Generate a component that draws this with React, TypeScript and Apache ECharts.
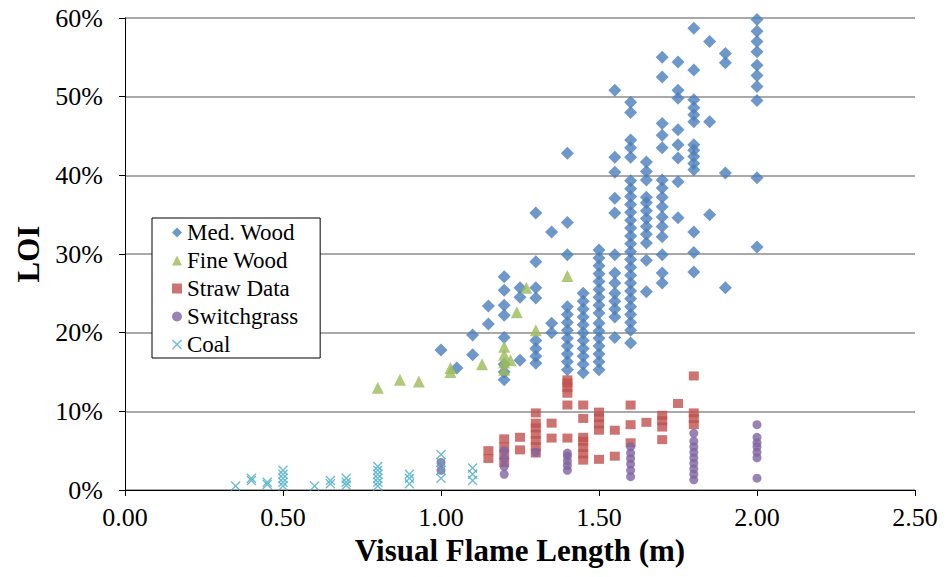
import React, { useEffect, useRef } from "react";
import * as echarts from "echarts";

const xTicks = [0, 0.5, 1.0, 1.5, 2.0, 2.5];
const yTicks = [0, 10, 20, 30, 40, 50, 60];

// [visual flame length (m), LOI (%)]
const medWood: number[][] = [
  [1.0, 17.8], [1.05, 15.5], [1.1, 17.2], [1.1, 19.7], [1.15, 21.1], [1.15, 23.4],
  [1.2, 14], [1.2, 15], [1.2, 16], [1.2, 19.4], [1.2, 22.2], [1.2, 23.5], [1.2, 25.4], [1.2, 27.1],
  [1.25, 16.5], [1.25, 24.5], [1.25, 25.7],
  [1.3, 16.1], [1.3, 17], [1.3, 18], [1.3, 19], [1.3, 24.4], [1.3, 25.7], [1.3, 29], [1.3, 35.2],
  [1.35, 20], [1.35, 21.2], [1.35, 32.8],
  [1.4, 15.3], [1.4, 16.3], [1.4, 17.3], [1.4, 18.3], [1.4, 19.3], [1.4, 20.3], [1.4, 21.3], [1.4, 22.3], [1.4, 23.3], [1.4, 29.9], [1.4, 34], [1.4, 42.8],
  [1.45, 14.9], [1.45, 16], [1.45, 17], [1.45, 18], [1.45, 19], [1.45, 20], [1.45, 21], [1.45, 22], [1.45, 23], [1.45, 24], [1.45, 25],
  [1.5, 15.3], [1.5, 16.3], [1.5, 17.3], [1.5, 18.3], [1.5, 19.3], [1.5, 20.2], [1.5, 21.2], [1.5, 22.5], [1.5, 23.5], [1.5, 24.5], [1.5, 25.5], [1.5, 26.5], [1.5, 27.5], [1.5, 28.5], [1.5, 29.5], [1.5, 30.5],
  [1.55, 19.4], [1.55, 22], [1.55, 23], [1.55, 24], [1.55, 25], [1.55, 26.3], [1.55, 27.6], [1.55, 29.9], [1.55, 35.2], [1.55, 37.1], [1.55, 40.4], [1.55, 42.3], [1.55, 50.8],
  [1.6, 18.7], [1.6, 20.3], [1.6, 21.3], [1.6, 22.3], [1.6, 23.3], [1.6, 24.3], [1.6, 25.3], [1.6, 26.3], [1.6, 27.3], [1.6, 28.3], [1.6, 29.3], [1.6, 30.3], [1.6, 31.3], [1.6, 32.3], [1.6, 33.3], [1.6, 34.3], [1.6, 35.3], [1.6, 36.3], [1.6, 37.3], [1.6, 38.3], [1.6, 39.3], [1.6, 42.3], [1.6, 43.5], [1.6, 44.5], [1.6, 48], [1.6, 49.3],
  [1.65, 25.2], [1.65, 29.2], [1.65, 31.4], [1.65, 32.5], [1.65, 33.5], [1.65, 34.5], [1.65, 35.5], [1.65, 36.5], [1.65, 37.2], [1.65, 39.4], [1.65, 40.5], [1.65, 41.7],
  [1.7, 26.3], [1.7, 27.6], [1.7, 29.9], [1.7, 32.2], [1.7, 33.5], [1.7, 34.7], [1.7, 36], [1.7, 37.2], [1.7, 38.4], [1.7, 39.4], [1.7, 43.5], [1.7, 45.1], [1.7, 46.6], [1.7, 52.5], [1.7, 55],
  [1.75, 34.6], [1.75, 39.2], [1.75, 42.2], [1.75, 43.9], [1.75, 45.8], [1.75, 49.8], [1.75, 50.8], [1.75, 54.4],
  [1.8, 27.7], [1.8, 30.2], [1.8, 32.8], [1.8, 40.7], [1.8, 41.5], [1.8, 42.4], [1.8, 43.2], [1.8, 43.9], [1.8, 46.8], [1.8, 47.7], [1.8, 48.6], [1.8, 49.6], [1.8, 53.4], [1.8, 58.7],
  [1.85, 35], [1.85, 46.8], [1.85, 57],
  [1.9, 25.7], [1.9, 40.3], [1.9, 54.3], [1.9, 55.5],
  [2.0, 30.9], [2.0, 39.7], [2.0, 49.5], [2.0, 51.3], [2.0, 52.7], [2.0, 54], [2.0, 55.7], [2.0, 57], [2.0, 58.3], [2.0, 59.8],
];

const fineWood: number[][] = [
  [0.8, 13], [0.87, 14], [0.93, 13.8], [1.03, 15], [1.03, 15.5], [1.13, 16],
  [1.2, 15.3], [1.2, 16.2], [1.2, 17.2], [1.2, 18.2], [1.22, 16.5], [1.24, 22.6],
  [1.27, 25.7], [1.3, 20.3], [1.4, 27.2],
];

const strawData: number[][] = [
  [1.15, 4], [1.15, 5], [1.2, 3.5], [1.2, 4.5], [1.2, 5.5], [1.2, 6.5],
  [1.25, 5.1], [1.25, 6.7], [1.3, 4.7], [1.3, 5.5], [1.3, 6.3], [1.3, 7.1], [1.3, 7.9], [1.3, 8.5], [1.3, 9.8],
  [1.35, 6.6], [1.35, 8.5], [1.4, 6.6], [1.4, 10.8], [1.4, 12.3], [1.4, 13], [1.4, 13.6], [1.4, 14],
  [1.45, 3.8], [1.45, 4.6], [1.45, 5.4], [1.45, 6.2], [1.45, 6.7], [1.45, 9.1], [1.45, 10.8],
  [1.5, 3.9], [1.5, 7.6], [1.5, 8.4], [1.5, 9.2], [1.5, 9.9], [1.55, 4.3], [1.55, 7.6],
  [1.6, 6], [1.6, 8.3], [1.6, 10.8], [1.65, 8.6], [1.7, 6.4], [1.7, 8], [1.7, 8.8], [1.7, 9.5],
  [1.75, 11], [1.8, 8.3], [1.8, 9.1], [1.8, 9.8], [1.8, 14.5],
];

const switchgrass: number[][] = [
  [1.0, 2.5], [1.0, 3.5], [1.2, 2], [1.2, 3], [1.2, 4], [1.2, 5], [1.3, 4.8],
  [1.4, 2.5], [1.4, 3.1], [1.4, 3.7], [1.4, 4.3], [1.4, 4.7],
  [1.6, 1.7], [1.6, 2.5], [1.6, 3.3], [1.6, 4], [1.6, 4.7], [1.6, 5.5],
  [1.8, 1.3], [1.8, 2], [1.8, 2.7], [1.8, 3.4], [1.8, 4.1], [1.8, 4.8], [1.8, 5.5], [1.8, 6.2], [1.8, 7.2],
  [2.0, 1.5], [2.0, 4.1], [2.0, 4.8], [2.0, 5.5], [2.0, 6], [2.0, 6.7], [2.0, 8.3],
];

const coal: number[][] = [
  [0.35, 0.5], [0.4, 1.2], [0.4, 1.5], [0.45, 0.7], [0.45, 1.0],
  [0.5, 0.5], [0.5, 1], [0.5, 1.5], [0.5, 2], [0.5, 2.5], [0.6, 0.5], [0.65, 0.8], [0.65, 1.2],
  [0.7, 0.6], [0.7, 1.0], [0.7, 1.5], [0.8, 0.5], [0.8, 1], [0.8, 1.5], [0.8, 2], [0.8, 2.5], [0.8, 3],
  [0.9, 0.8], [0.9, 1.5], [0.9, 2], [1.0, 1.5], [1.0, 2.5], [1.0, 3.5], [1.0, 4.5],
  [1.1, 1.2], [1.1, 2], [1.1, 2.8],
];

const crossPath =
  "path://M0,1 L1,0 L5,4 L9,0 L10,1 L6,5 L10,9 L9,10 L5,6 L1,10 L0,9 L4,5 Z";

const FONT = "Liberation Serif";

export default function App() {
  const ref = useRef<HTMLDivElement>(null);
  useEffect(() => {
    document.body.style.margin = "0";
    const chart = echarts.init(ref.current!, null, { renderer: "svg" });
    chart.setOption({
      animation: false,
      backgroundColor: "#ffffff",
      grid: { left: 125, right: 32, top: 18, bottom: 87, containLabel: false },
      legend: {
        orient: "vertical",
        left: 152,
        top: 218,
        backgroundColor: "#ffffff",
        borderColor: "#000000",
        borderWidth: 1,
        padding: [3, 22, 2, 20],
        itemGap: 5,
        itemWidth: 10,
        itemHeight: 10,
        textStyle: { fontFamily: FONT, fontSize: 23, color: "#000" },
        data: ["Med. Wood", "Fine Wood", "Straw Data", "Switchgrass", "Coal"],
      },
      xAxis: {
        type: "value",
        min: xTicks[0],
        max: xTicks[xTicks.length - 1],
        interval: 0.5,
        name: "Visual Flame Length (m)",
        nameLocation: "middle",
        nameGap: 43,
        nameTextStyle: { fontFamily: FONT, fontSize: 31, fontWeight: "bold", color: "#000" },
        axisLine: { lineStyle: { color: "#000", width: 1 } },
        axisTick: { show: true, length: 6, lineStyle: { color: "#000" } },
        axisLabel: {
          fontFamily: FONT,
          fontSize: 26,
          color: "#000",
          margin: 14,
          formatter: (v: number) => v.toFixed(2),
        },
        splitLine: { show: false },
      },
      yAxis: {
        type: "value",
        min: yTicks[0],
        max: yTicks[yTicks.length - 1],
        interval: 10,
        name: "LOI",
        nameLocation: "middle",
        nameGap: 80,
        nameTextStyle: { fontFamily: FONT, fontSize: 31, fontWeight: "bold", color: "#000" },
        axisLine: { show: true, lineStyle: { color: "#000", width: 1 } },
        axisTick: { show: true, length: 6, lineStyle: { color: "#000" } },
        axisLabel: {
          fontFamily: FONT,
          fontSize: 26,
          color: "#000",
          margin: 22,
          formatter: "{value}%",
        },
        splitLine: { show: true, lineStyle: { color: "#8c8c8c", width: 1.5 } },
      },
      series: [
        {
          name: "Med. Wood",
          type: "scatter",
          symbol: "diamond",
          symbolSize: 13,
          itemStyle: { color: "#4a7ebb" },
          data: medWood,
        },
        {
          name: "Fine Wood",
          type: "scatter",
          symbol: "triangle",
          symbolSize: 12,
          itemStyle: { color: "#9bbb59" },
          data: fineWood,
        },
        {
          name: "Straw Data",
          type: "scatter",
          symbol: "rect",
          symbolSize: [10, 9],
          itemStyle: { color: "#c0504d" },
          data: strawData,
        },
        {
          name: "Switchgrass",
          type: "scatter",
          symbol: "circle",
          symbolSize: 9,
          itemStyle: { color: "#8064a2" },
          data: switchgrass,
        },
        {
          name: "Coal",
          type: "scatter",
          symbol: crossPath,
          symbolSize: 10,
          itemStyle: { color: "#4bacc6" },
          data: coal,
        },
      ],
    });
    return () => chart.dispose();
  }, []);
  return (
    <div
      ref={ref}
      style={{ position: "absolute", left: 0, top: 0, width: 947, height: 577 }}
    />
  );
}
